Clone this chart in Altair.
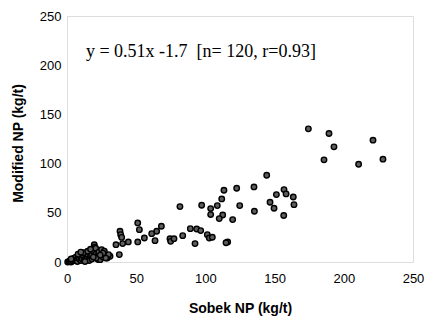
import altair as alt
import pandas as pd

# Sobek NP (x) and Modified NP (y), kg/t
sobek = [
    174.4, 189.3, 192.9, 185.7, 221.1, 210.7, 228.3,
    144.3, 135.1, 122.6, 113.4, 111.8, 108.6, 103.8, 103.8,
    97.3, 81.6, 124.8, 135.4, 119.7, 112.5, 110.0,
    156.8, 158.3, 151.3, 163.5, 164.0, 146.7, 149.6, 156.6,
    92.5, 116.1, 114.9, 89.1, 93.7, 96.6, 83.6,
    101.4, 102.8, 105.0, 74.4, 74.9, 77.3,
    68.2, 64.8, 61.2, 63.6, 55.9, 51.1, 51.1, 52.3,
    44.3, 40.2, 35.4, 38.3, 38.8, 39.5, 37.8,
    31.1, 29.1, 30.0,
    0.5, 1.5, 2.5, 3.0, 4.0, 4.5, 5.0, 5.5, 6.0, 6.5, 7.0, 7.5, 8.0, 8.5,
    9.0, 9.5, 10.0, 10.5, 11.0, 11.5, 12.0, 12.5, 13.0, 13.5, 14.0, 14.7,
    15.0, 15.5, 16.0, 16.5, 17.0, 17.8, 18.0, 18.5, 19.0, 19.7, 20.0, 20.7,
    21.0, 22.0, 22.5, 23.0, 24.0, 25.0, 26.0, 28.0, 27.0,
    12.0, 15.0, 8.0, 17.0, 21.0, 26.0, 3.0, 10.0, 19.0, 13.0, 24.0,
]
modified = [
    135.3, 130.6, 117.0, 103.8, 123.8, 99.4, 104.5,
    88.2, 76.3, 75.0, 72.9, 64.1, 57.3, 54.3, 48.2,
    57.7, 56.3, 57.3, 51.6, 43.1, 47.8, 44.1,
    73.6, 69.2, 68.5, 66.1, 58.3, 60.7, 54.6, 47.2,
    18.7, 20.4, 19.5, 33.9, 33.6, 31.9, 26.8,
    27.8, 24.4, 25.1, 23.7, 21.0, 23.7,
    36.3, 31.2, 28.8, 21.7, 24.4, 20.4, 39.7, 32.9,
    20.4, 18.7, 17.6, 31.2, 27.8, 25.0, 7.5,
    5.8, 4.1, 7.5,
    0.0, 0.5, 1.0, 0.0, 1.0, 2.5, 4.0, 1.5, 3.0, 5.0, 2.4, 0.5, 4.0, 6.0,
    3.0, 7.5, 1.5, 5.0, 3.0, 8.0, 6.0, 2.0, 9.0, 4.0, 6.5, 5.0,
    8.0, 2.5, 1.5, 10.0, 6.0, 7.0, 3.0, 12.5, 11.5, 17.6, 15.0, 14.0,
    8.0, 6.0, 2.5, 10.0, 2.4, 12.6, 5.0, 4.0, 11.0,
    9.5, 11.0, 8.0, 13.0, 4.0, 9.0, 3.0, 10.0, 5.0, 0.5, 7.0,
]

annotation_text = ["y = 0.51x -1.7\u00a0\u00a0[n= 120, r=0.93]"]
annotation_x = [13.7]
annotation_y = [208]

x_ticks = [0, 50, 100, 150, 200, 250]
y_ticks = [0, 50, 100, 150, 200, 250]

df = pd.DataFrame({"Sobek": sobek, "Modified": modified})
ann = pd.DataFrame({"x": annotation_x, "y": annotation_y, "t": annotation_text})

xscale = alt.Scale(domain=[0, 250], nice=False)
yscale = alt.Scale(domain=[0, 250], nice=False)

points = alt.Chart(df).mark_point(
    filled=True, shape="circle", size=30, fill="#5e5e5e",
    stroke="#000000", strokeWidth=1.4, opacity=1,
).encode(
    x=alt.X("Sobek:Q", scale=xscale, title="Sobek NP (kg/t)",
            axis=alt.Axis(values=x_ticks, grid=False, ticks=False, domain=False,
                          labelFlush=False, labelOverlap=False,
                          labelFont="Liberation Sans", labelFontSize=13,
                          labelColor="#000", labelPadding=10,
                          titleFont="Liberation Sans", titleFontSize=14,
                          titleFontWeight="bold", titleColor="#000",
                          titleY=46, titleBaseline="middle")),
    y=alt.Y("Modified:Q", scale=yscale, title="Modified NP (kg/t)",
            axis=alt.Axis(values=y_ticks, grid=False, ticks=False, domain=False,
                          labelFlush=False, labelOverlap=False,
                          labelFont="Liberation Sans", labelFontSize=13,
                          labelColor="#000", labelPadding=6,
                          titleFont="Liberation Sans", titleFontSize=14,
                          titleFontWeight="bold", titleColor="#000",
                          titleX=-49, titleY=127, titleBaseline="middle",
                          titleAlign="center", titleAngle=-90)),
)

text = alt.Chart(ann).mark_text(
    align="left", baseline="alphabetic", font="Liberation Serif",
    fontSize=18, color="#000",
).encode(
    x=alt.X("x:Q", scale=xscale),
    y=alt.Y("y:Q", scale=yscale),
    text="t:N",
)

chart = alt.layer(points, text).properties(
    width=346, height=246,
    padding={"left": 67, "top": 16, "right": 12, "bottom": 61},
    autosize=alt.AutoSizeParams(type="none"),
).configure_view(
    stroke="#000000", strokeWidth=1,
).configure(background="white")

chart.save("out.html", embed_options={"renderer": "svg", "actions": False})
